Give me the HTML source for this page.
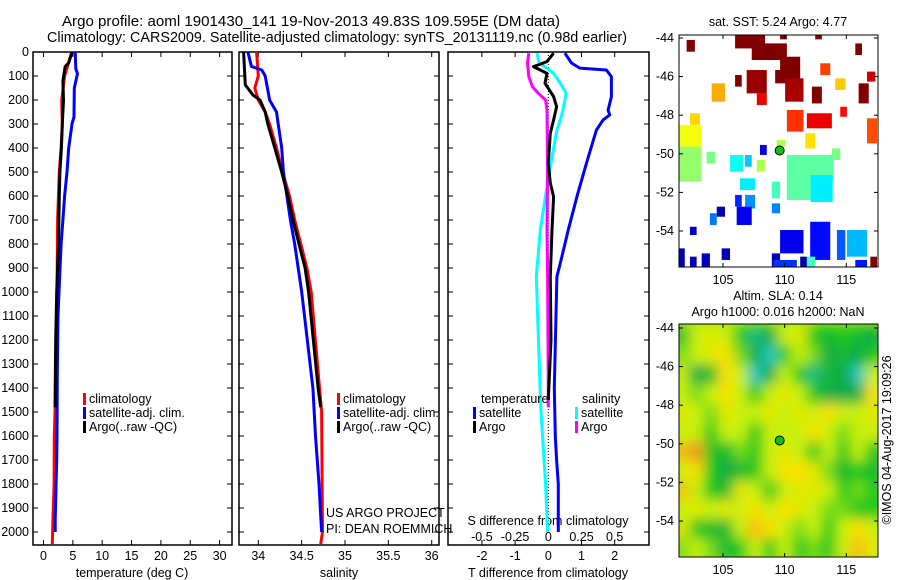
<!DOCTYPE html>
<html><head><meta charset="utf-8"><style>
body{margin:0;background:#fff}
svg{display:block;font-family:"Liberation Sans",sans-serif;font-size:12.5px}
</style></head><body>
<svg id="s" width="900" height="580" viewBox="0 0 900 580" xmlns="http://www.w3.org/2000/svg">
<defs>
<filter id="blur" x="-5%" y="-5%" width="110%" height="110%"><feGaussianBlur stdDeviation="6.5"/></filter>
<clipPath id="clipMap2"><rect x="679" y="324" width="199" height="233"/></clipPath>
<clipPath id="clipMap1"><rect x="679" y="35" width="199" height="232"/></clipPath>
</defs>
<text x="62" y="26" font-size="15" textLength="498" lengthAdjust="spacingAndGlyphs">Argo profile: aoml 1901430_141 19-Nov-2013 49.83S 109.595E (DM data)</text>
<text x="47" y="42" font-size="15" textLength="580" lengthAdjust="spacingAndGlyphs">Climatology: CARS2009. Satellite-adjusted climatology: synTS_20131119.nc (0.98d earlier)</text>
<g id="g"></g>
</svg>
<script>
const depthTicks=[0,100,200,300,400,500,600,700,800,900,1000,1100,1200,1300,1400,1500,1600,1700,1800,1900,2000];
const tempTicks=[0,5,10,15,20,25,30];
const salTicks=[34,34.5,35,35.5,36];
const salTickLabels=["34","34.5","35","35.5","36"];
const tdiffTicks=[-2,-1,0,1,2];
const sdiffLabels=["-0.5","-0.25","0","0.25","0.5"];
const sdiffTicks=[-0.5,-0.25,0,0.25,0.5];

const tArgoZ=[0,46,60,120,200,300,400,500,600,800,1000,1200,1400,1480];
const tArgoV=[4.86,4.3,3.7,3.3,3.4,3.2,3.05,2.8,2.7,2.55,2.25,2.08,2.0,2.0];
const tClimZ=[0,100,200,300,400,500,700,1000,1500,1600,1800,1950,2050];
const tClimV=[4.8,3.6,3.1,3.2,3.0,2.7,2.4,2.3,1.96,1.84,1.8,1.6,1.5];
const tSatZ=[0,70,90,150,270,300,400,500,600,700,800,1000,1100,1350,1600,1700,1950,2000];
const tSatV=[5.4,5.5,5.8,5.25,5.2,4.86,4.3,4.0,3.6,3.3,3.0,2.64,2.47,2.35,2.3,2.25,2.0,2.0];

const sArgoZ=[0,137,180,200,250,300,400,500,600,700,800,900,1000,1400,1480];
const sArgoV=[33.83,33.85,33.94,34.02,34.08,34.11,34.19,34.27,34.34,34.40,34.47,34.54,34.58,34.69,34.72];
const sClimZ=[0,100,150,200,250,300,400,500,600,700,800,900,1000,1500,2000,2050];
const sClimV=[33.98,34.0,33.96,34.0,34.08,34.13,34.21,34.28,34.36,34.42,34.49,34.56,34.61,34.73,34.74,34.72];
const sSatZ=[0,60,75,100,200,250,300,400,500,600,700,800,900,1000,1400,1600,1800,2000];
const sSatV=[33.88,33.92,34.04,34.08,34.13,34.21,34.23,34.27,34.29,34.33,34.37,34.42,34.46,34.50,34.63,34.66,34.70,34.73];

const dTArgoZ=[5,40,61,75,89,130,186,228,283,338,463,546,603,742,936,1200,1450];
const dTArgoV=[0.16,-0.04,-0.45,-0.24,-0.04,-0.1,0.16,0.25,0.16,0.06,0.0,0.06,0.16,0.11,0.06,0.08,0.0];
const dTSatZ=[5,46,67,75,103,186,242,262,283,325,463,603,742,880,936,1400,1600,1700,1800,2000];
const dTSatV=[0.5,0.7,0.95,1.75,1.9,1.9,1.8,1.85,1.65,1.45,1.15,0.86,0.6,0.36,0.26,0.18,0.21,0.25,0.3,0.3];
const dSSatZ=[5,46,67,89,130,172,242,283,325,463,603,742,936,1400,1500,1800,2000];
const dSSatV=[-0.085,-0.07,-0.01,0.04,0.09,0.134,0.11,0.09,0.065,0.02,-0.022,-0.06,-0.09,-0.062,-0.055,-0.02,-0.005];
const dSArgoZ=[5,46,103,144,172,200,242,463,742,936,1400,1480];
const dSArgoV=[-0.147,-0.157,-0.147,-0.12,-0.075,-0.02,-0.01,-0.005,-0.01,-0.005,0.0,0.0];

const sstLon0=[105.98,107.33,109.63,110.04,112.21,106.92,107.74,105.98,109.23,102.05,115.73,109.63,112.48,112.89,114.1,116.68,116.0,114.51,116.68,111.8,110.18,111.67,104.08,102.32,101.42,101.42,103.67,113.83,110.18,110.18,112.1,108.96,106.38,105.57,106.79,107.74,108.0,109.36,105.98,106.79,104.49,103.94,106.11,108.96,102.32,109.63,112.07,114.24,115.05,101.42,102.32,103.27,104.89,108.96,109.09,111.8,111.26,115.73,116.95];
const sstLon1=[108.41,110.18,111.26,111.53,113.02,108.55,108.55,106.52,109.77,102.72,116.27,110.18,113.02,113.7,114.92,117.36,116.82,115.05,117.49,113.83,111.53,112.48,105.16,103.13,103.27,103.27,104.35,114.51,113.97,112.1,113.9,109.63,107.6,106.65,107.33,108.41,108.55,110.04,106.52,107.6,105.16,104.49,107.33,109.63,102.86,111.53,113.7,114.92,116.68,101.9,102.86,103.94,105.57,109.63,110.99,112.48,111.8,116.68,117.49];
const sstLat0=[-43.84,-44.28,-44.97,-46.09,-46.52,-45.66,-46.87,-45.92,-45.66,-44.1,-44.28,-43.84,-43.84,-45.31,-46.09,-45.74,-46.35,-47.56,-48.16,-47.9,-47.73,-48.94,-46.35,-47.9,-48.5,-49.63,-49.89,-49.72,-50.06,-51.36,-51.1,-51.44,-51.27,-50.06,-50.06,-50.32,-49.54,-49.28,-52.13,-52.13,-52.74,-53.08,-52.74,-52.57,-53.78,-53.95,-53.52,-53.95,-53.95,-54.9,-55.33,-55.16,-54.9,-55.16,-55.5,-55.33,-55.33,-55.5,-55.33];
const sstLat1=[-44.54,-45.14,-46.35,-47.3,-47.39,-46.87,-47.47,-46.52,-46.35,-44.71,-44.88,-44.07,-44.07,-45.92,-46.69,-46.26,-47.39,-48.08,-49.46,-48.68,-48.85,-49.72,-47.3,-48.5,-49.63,-51.44,-50.5,-50.32,-51.36,-52.39,-52.5,-52.31,-51.88,-50.93,-50.67,-50.93,-50.06,-49.63,-52.74,-52.83,-53.26,-53.69,-53.69,-53.08,-54.21,-55.16,-55.5,-55.5,-55.33,-55.85,-55.85,-55.85,-55.5,-55.85,-55.85,-55.85,-55.85,-55.85,-55.85];
const sstVal=[9,9,9,8.7,9,8.8,8.2,9,9,9,9,9,9,7.6,6.6,8.4,9,8,7.5,8.2,7.7,6.4,6.8,6.5,6.1,5.4,5.2,5.2,5.0,5.0,4.2,4.8,4.2,4.4,3.9,5.6,2.2,5.6,2.7,3.5,1.9,3.3,2.3,3.4,1.9,2.3,2.5,3.1,3.8,1.9,1.9,2.0,1.9,1.9,2.8,4.8,1.9,2.6,9];

const slaLats=[-44.5,-45.5,-46.5,-47.5,-48.5,-49.5,-50.5,-51.5,-52.5,-53.5,-54.5,-55.5];
const slaRows=[
[-0.5,1,1.5,1,0,-1.5,-1,1,1.5,0,-0.5,0,-0.5,-1],
[0.5,1,1.5,2,0.5,-1,-2,0,1,0.5,-1,-0.5,-1,0],
[1,-1,-0.5,2,1,-2,-1,1,0,-1.5,-0.5,-1,-2,1],
[1,0.5,1,2,1,0,1,1.5,1,0,-1,-1,-1,2],
[1.5,1,0.5,1.5,1,1,1.5,1,1.5,1,2,1,1,1.5],
[1,1,0,1,1,0,1,1,1,2,1,0.5,1,1],
[2.5,3,0,-0.5,0.5,0,1,1.5,1,0,1,0,1,0],
[1,2,0,-1,-0.5,0,1,2,2,1.5,0.5,-0.5,0,-0.5],
[2.5,1,0,-0.5,1.5,1,0,1,1.5,1.5,1,0,0.5,0],
[1,1.5,1,1.5,1,2,1,2,1.5,1,0.5,0.5,0,0],
[1.5,0,-0.5,-0.5,1,2.5,2,1,0.5,1,0,1,2,1],
[0.5,1,0.5,-0.5,0,1,0,1,0,0.5,0,1,2.5,1.5]];
const mapLonTicks=[105,110,115];
const mapLatTicks=[-44,-46,-48,-50,-52,-54];
const argoLon=109.595, argoLat=-49.83;

const NS="http://www.w3.org/2000/svg";
const G=document.getElementById('g');
function mk(tag,attrs,parent){const e=document.createElementNS(NS,tag);for(const k in attrs)e.setAttribute(k,attrs[k]);(parent||G).appendChild(e);return e;}

const yD=d=>52+d*0.24;
const xT=t=>43.5+t*5.87;
const xS=s=>258.3+(s-34)*86.7;
const xDT=t=>548.3+t*33.2;
const xDS=s=>548.3+s*132.8;
const mLon1=l=>723+(l-105)*12.33;
const mLat1=l=>38-(l+44)*19.3;
const mLat2=l=>328-(l+44)*19.3;

const panels=[{x0:33,x1:232,name:'temperature-panel'},{x0:239,x1:439,name:'salinity-panel'},{x0:448,x1:649,name:'difference-panel'}];
const yTop=52,yBot=545;
panels.forEach(p=>{
  const r=mk('rect',{x:p.x0,y:yTop,width:p.x1-p.x0,height:yBot-yTop,fill:'none',stroke:'#000','stroke-width':1.5});
  
  
  depthTicks.forEach(d=>{
    mk('line',{x1:p.x0,x2:p.x0+5,y1:yD(d),y2:yD(d),stroke:'#000'});
    mk('line',{x1:p.x1-5,x2:p.x1,y1:yD(d),y2:yD(d),stroke:'#000'});
  });
});
depthTicks.forEach(d=>{
  const t=mk('text',{x:29,y:yD(d)+4,'text-anchor':'end'});t.textContent=d;
  
  
});
function xticks(vals,fx,labels,panelName){
  vals.forEach((v,i)=>{
    const x=fx(v);
    mk('line',{x1:x,x2:x,y1:yTop,y2:yTop+5,stroke:'#000'});
    mk('line',{x1:x,x2:x,y1:yBot-5,y2:yBot,stroke:'#000'});
    if(labels){const t=mk('text',{x:x,y:560,'text-anchor':'middle'});t.textContent=labels[i];
    
    }
  });
}
xticks(tempTicks,xT,tempTicks.map(String),'temperature');
xticks(salTicks,xS,salTickLabels,'salinity');
xticks(tdiffTicks.filter(v=>v!==0),xDT,null,'tdiff');
tdiffTicks.forEach(v=>{const t=mk('text',{x:xDT(v),y:560,'text-anchor':'middle'});t.textContent=String(v);
  
  });
sdiffTicks.forEach((v,i)=>{const t=mk('text',{x:xDS(v),y:541,'text-anchor':'middle'});t.textContent=sdiffLabels[i];
  
  });
function txt(x,y,s,name,anchor,extra){const t=mk('text',Object.assign({x:x,y:y,'text-anchor':anchor||'start'},extra||{}));t.textContent=s;
  
  return t;}
txt(132,577,'temperature (deg C)','temperature-axis-title','middle');
txt(339,577,'salinity','salinity-axis-title','middle');
txt(548,577,'T difference from climatology','t-difference-axis-title','middle');
txt(548,525,'S difference from climatology','s-difference-axis-title','middle');
txt(326,517,'US ARGO PROJECT','project-label');
txt(326,533,'PI: DEAN ROEMMICH','pi-label');

const zl=mk('line',{x1:xDT(0),x2:xDT(0),y1:yD(0),y2:yD(2000),stroke:'#000','stroke-dasharray':'1,2'});



function line(zs,vs,fx,color,name){
  const pts=zs.map((z,i)=>fx(vs[i]).toFixed(1)+','+yD(z).toFixed(1)).join(' ');
  const pl=mk('polyline',{points:pts,fill:'none',stroke:color,'stroke-width':3,'stroke-linejoin':'round'});
  
  
}
line(tClimZ,tClimV,xT,'#ff0000','temperature-climatology-line');
line(tSatZ,tSatV,xT,'#0000ff','temperature-satellite-line');
line(tArgoZ,tArgoV,xT,'#000','temperature-argo-line');
line(sClimZ,sClimV,xS,'#ff0000','salinity-climatology-line');
line(sSatZ,sSatV,xS,'#0000ff','salinity-satellite-line');
line(sArgoZ,sArgoV,xS,'#000','salinity-argo-line');
line(dTSatZ,dTSatV,xDT,'#0000ff','t-diff-satellite-line');
line(dSSatZ,dSSatV,xDS,'#00ffff','s-diff-satellite-line');
line(dSArgoZ,dSArgoV,xDS,'#ff00ff','s-diff-argo-line');
line(dTArgoZ,dTArgoV,xDT,'#000','t-diff-argo-line');

function legend(x,y,color,label,name){
  const r=mk('rect',{x:x,y:y-6,width:3,height:12,fill:color});
  
  
  txt(x+6,y+4,label,name+'-label');
}
[[83,'#ff0000','climatology'],[83,'#0000ff','satellite-adj. clim.'],[83,'#000','Argo(..raw -QC)']].forEach((l,i)=>legend(l[0],399+i*14,l[1],l[2],'temp-legend-'+i));
[[337,'#ff0000','climatology'],[337,'#0000ff','satellite-adj. clim.'],[337,'#000','Argo(..raw -QC)']].forEach((l,i)=>legend(l[0],399+i*14,l[1],l[2],'sal-legend-'+i));
txt(481,403,'temperature','diff-legend-temperature-heading');
txt(582,403,'salinity','diff-legend-salinity-heading');
legend(473,413,'#0000ff','satellite','diff-legend-t-satellite');
legend(473,427,'#000','Argo','diff-legend-t-argo');
legend(575,413,'#00ffff','satellite','diff-legend-s-satellite');
legend(575,427,'#ff00ff','Argo','diff-legend-s-argo');

function jet(v){
  let t=(v-1.5)/(9.0-1.5);t=Math.max(0,Math.min(1,t));
  const f=x=>Math.round(255*Math.max(0,Math.min(1,x)));
  return 'rgb('+f(1.5-Math.abs(4*t-3))+','+f(1.5-Math.abs(4*t-2))+','+f(1.5-Math.abs(4*t-1))+')';
}
const m1=mk('g',{'clip-path':'url(#clipMap1)'});


sstVal.forEach((v,i)=>{
  const x0=mLon1(sstLon0[i]),x1=mLon1(sstLon1[i]),y0=mLat1(sstLat0[i]),y1=mLat1(sstLat1[i]);
  const r=mk('rect',{x:x0,y:y0,width:x1-x0,height:y1-y0,fill:jet(v)},m1);
  
  
});
function slaColor(v){
  const stops=[[-2,[40,200,190]],[-1,[16,170,70]],[0,[30,200,30]],[1,[200,240,10]],[2,[250,225,0]],[3,[240,150,30]]];
  v=Math.max(-2,Math.min(3,v));
  for(let i=0;i<stops.length-1;i++){if(v<=stops[i+1][0]){const a=stops[i],b=stops[i+1],t=(v-a[0])/(b[0]-a[0]);
    return 'rgb('+a[1].map((c,k)=>Math.round(c+(b[1][k]-c)*t)).join(',')+')';}}
  return 'rgb(240,150,30)';
}
const m2=mk('g',{'clip-path':'url(#clipMap2)'});


mk('rect',{x:679,y:324,width:199,height:233,fill:'rgb(170,235,15)'},m2);
const m2b=mk('g',{filter:'url(#blur)'},m2);
const nC=slaRows[0].length, lonStep=(117.9-101.2)/nC;
slaRows.forEach((row,ri)=>{
  row.forEach((v,ci)=>{
    const lon0=101.2+ci*lonStep;
    const x0=mLon1(lon0)-2,x1=mLon1(lon0+lonStep)+2;
    const y0=mLat2(slaLats[ri]+0.5)-2,y1=mLat2(slaLats[ri]-0.5)+2;
    const r=mk('rect',{x:x0,y:y0,width:x1-x0,height:y1-y0,fill:slaColor(v)},m2b);
    
    
  });
});
[[35,267,mLat1,'sst'],[324,557,mLat2,'sla']].forEach(m=>{
  const fr=mk('rect',{x:679,y:m[0],width:199,height:m[1]-m[0],fill:'none',stroke:'#000','stroke-width':1});
  
  
  mapLatTicks.forEach(l=>{const y=m[2](l);mk('line',{x1:679,x2:683,y1:y,y2:y,stroke:'#000'});mk('line',{x1:874,x2:878,y1:y,y2:y,stroke:'#000'});
    txt(674,y+4,String(l),m[3]+'-lat-tick-label','end');});
  mapLonTicks.forEach(l=>{const x=mLon1(l);mk('line',{x1:x,x2:x,y1:m[0],y2:m[0]+4,stroke:'#000'});mk('line',{x1:x,x2:x,y1:m[1]-4,y2:m[1],stroke:'#000'});
    txt(x,m[1]+17,String(l),m[3]+'-lon-tick-label','middle');});
  const c=mk('circle',{cx:mLon1(argoLon),cy:m[2](argoLat),r:4.5,fill:'#10c010',stroke:'#000','stroke-width':1});
  
  
});
txt(778,26,'sat. SST: 5.24 Argo: 4.77','sst-map-title','middle');
txt(778,300,'Altim. SLA: 0.14','sla-map-title','middle');
txt(778,316,'Argo h1000: 0.016 h2000: NaN','sla-map-subtitle','middle');
txt(0,0,'©IMOS 04-Aug-2017 19:09:26','imos-timestamp','middle',{transform:'translate(891,440) rotate(-90)'});
</script>
</body></html>
